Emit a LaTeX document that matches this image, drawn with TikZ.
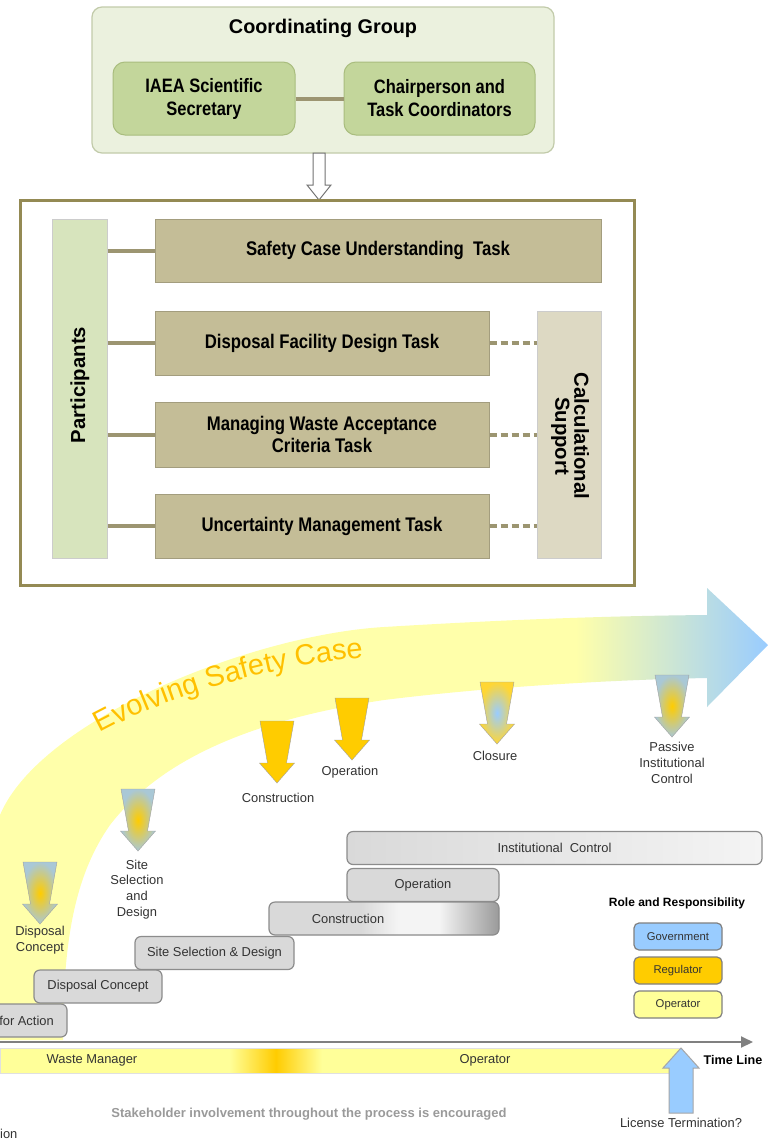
\documentclass[tikz,border=0pt]{standalone}
\usepackage{fontspec}
\setmainfont{Liberation Sans}
\newfontfamily\narrowfont[FakeStretch=0.85]{Liberation Sans}
\usetikzlibrary{arrows.meta,decorations.text}

\definecolor{cgfill}{HTML}{EBF1DE}
\definecolor{cgline}{HTML}{C2CBAA}
\definecolor{cgbox}{HTML}{C3D69B}
\definecolor{cgboxline}{HTML}{A9BD7E}
\definecolor{linkline}{HTML}{9C9571}
\definecolor{frameline}{HTML}{948A54}
\definecolor{partfill}{HTML}{D7E4BD}
\definecolor{taskfill}{HTML}{C4BD97}
\definecolor{taskline}{HTML}{A39D7E}
\definecolor{calcfill}{HTML}{DDD9C3}
\definecolor{bandyellow}{HTML}{FFFFAA}
\definecolor{bandblue}{HTML}{99CCFF}
\definecolor{evolve}{HTML}{FFC000}
\definecolor{gold}{HTML}{FFCC00}
\definecolor{skyblue}{HTML}{99CCFF}
\definecolor{steelgray}{HTML}{A9C8D6}
\definecolor{arrowline}{HTML}{A0A0A0}
\definecolor{stairgray}{HTML}{D9D9D9}
\definecolor{stairdark}{HTML}{9A9A9A}
\definecolor{stairlight}{HTML}{F4F4F4}
\definecolor{stairline}{HTML}{8C8C8C}
\definecolor{paleyellow}{HTML}{FFFF99}
\definecolor{labelgray}{HTML}{333333}
\definecolor{notegray}{HTML}{9A9A9A}

% shadings are stretched over the whole shape: 25bp = left side, 75bp = right side
\pgfdeclarehorizontalshading{bandfade}{100bp}{color(0bp)=(bandyellow); color(62.5bp)=(bandyellow); color(75bp)=(bandblue); color(100bp)=(bandblue)}
\pgfdeclarehorizontalshading{spotfade}{100bp}{color(0bp)=(paleyellow); color(41.9bp)=(paleyellow); color(45.3bp)=(gold); color(48.7bp)=(paleyellow); color(100bp)=(paleyellow)}
\pgfdeclarehorizontalshading{confade}{100bp}{color(0bp)=(stairgray); color(45bp)=(stairgray); color(53bp)=(stairlight); color(62bp)=(stairlight); color(75bp)=(stairdark); color(100bp)=(stairdark)}
\pgfdeclarehorizontalshading{icfade}{100bp}{color(0bp)=(stairgray); color(25bp)=(stairgray); color(75bp)=(stairlight); color(100bp)=(stairlight)}

% one down arrow of the time line: options, x, top y
\newcommand\phasearrow[3]{%
  \path[#1, shift={(#2,#3)}] (-17,0) -- (17,0) -- (9.5,42) -- (17.5,42) -- (0,62)
    -- (-17.5,42) -- (-9.5,42) -- cycle;}

\begin{document}
\begin{tikzpicture}[x=1pt,y=-1pt,
  cgframe/.style={draw=cgline, line width=1.2, fill=cgfill, rounded corners=10,
    minimum width=462, minimum height=146},
  cgtitle/.style={font=\bfseries\fontsize{19.8}{23}\selectfont},
  cgbox/.style={draw=cgboxline, line width=1, fill=cgbox, rounded corners=12,
    minimum height=73, align=center, font={\narrowfont\bfseries\fontsize{19.4}{23}\selectfont}},
  link/.style={draw=linkline, line width=4},
  dashlink/.style={link, dash pattern=on 7 off 4},
  hollowarrow/.style={draw=black!55, line width=1, fill=white},
  taskframe/.style={draw=frameline, line width=3, fill=white, minimum width=614, minimum height=385},
  partbox/.style={draw=black!20, line width=1, fill=partfill, minimum width=55, minimum height=339},
  calcbox/.style={draw=black!20, line width=1, fill=calcfill, minimum width=64, minimum height=247},
  taskbox/.style={draw=taskline, line width=1, fill=taskfill, minimum width=334, minimum height=64,
    align=center, font={\narrowfont\bfseries\fontsize{19.7}{21.7}\selectfont}},
  sidetext/.style={font=\bfseries\fontsize{20.3}{19}\selectfont, align=center},
  phaselabel/.style={text=labelgray, align=center, font=\fontsize{12.9}{15.8}\selectfont},
  stair/.style={draw=stairline, line width=1.2, fill=stairgray, rounded corners=6, minimum height=33,
    text=labelgray, font=\fontsize{12.9}{15}\selectfont},
  roletitle/.style={font=\bfseries\fontsize{12}{14}\selectfont},
  rolebox/.style={draw=black!50, line width=1.2, rounded corners=5, minimum width=88, minimum height=27,
    text=labelgray, font=\fontsize{11.3}{13}\selectfont},
  roleband/.style={shade, shading=spotfade, draw=black!12, minimum width=679, minimum height=25},
  timeline/.style={draw=black!50, line width=2, -{Triangle[length=12,width=11]}},
  uparrow/.style={draw=black!35, line width=1, fill=skyblue},
  note/.style={text=notegray, font=\bfseries\fontsize{13}{15}\selectfont}
]
\path[use as bounding box, fill=white] (0,0) rectangle (768,1141);

% coordinating group
\node[cgframe] (cg) at (323,80) {};
\node[cgtitle] (cgt) at (323,28) {Coordinating Group};
\node[cgbox, minimum width=182] (sec) at (204,98.5) {IAEA Scientific\\Secretary};
\node[cgbox, minimum width=191] (chair) at (439.5,98.5) {Chairperson and\\Task Coordinators};
\draw[link] (sec) -- (chair);
\draw[hollowarrow] (313,153) -- (325,153) -- (325,185) -- (331,185) -- (319,200) -- (307,185) -- (313,185) -- cycle;

% tasks
\node[taskframe] (frame) at (327,392.5) {};
\node[partbox] (part) at (79.5,388.5) {};
\node[sidetext, rotate=90] (parttext) at (80,385) {Participants};
\node[taskbox, minimum width=446, minimum height=63] (sct) at (378,250.5) {Safety Case Understanding\ \ Task};
\node[taskbox] (dfd) at (322,343) {Disposal Facility Design Task};
\node[taskbox, minimum height=65] (mwa) at (322,434.5) {Managing Waste Acceptance\\Criteria Task};
\node[taskbox] (umt) at (322,526) {Uncertainty Management Task};
\node[calcbox] (calc) at (569,434.5) {};
\node[sidetext, rotate=-90] (calctext) at (570,436) {Calculational\\Support};
\draw[link] (part.east |- sct.west) -- (sct.west);
\draw[link] (part.east |- dfd.west) -- (dfd.west);
\draw[link] (part.east |- mwa.west) -- (mwa.west);
\draw[link] (part.east |- umt.west) -- (umt.west);
\draw[dashlink] (dfd.east) -- (calc.west |- dfd.east);
\draw[dashlink] (mwa.east) -- (calc.west |- mwa.east);
\draw[dashlink] (umt.east) -- (calc.west |- umt.east);

% evolving safety case
\shade[shading=bandfade]
  (0,1040) -- (63,1040) .. controls (63,940) and (75,875) .. (110,825)
  .. controls (160,760) and (250,720) .. (384,700) .. controls (480,688) and (600,680) .. (707,678)
  -- (707,707) -- (768,645) -- (707,588) -- (707,615)
  .. controls (600,616) and (500,620) .. (384,627) .. controls (250,635) and (40,720) .. (0,815) -- cycle;
\path[decorate, decoration={text along path, text color=evolve,
    text={|\fontsize{29}{30}\selectfont|Evolving Safety Case}}]
  (100,733) .. controls (160,700) and (260,668) .. (357,658) -- (440,650);

% milestones
\phasearrow{draw=arrowline, inner color=gold, outer color=steelgray}{40}{862}
\phasearrow{draw=arrowline, inner color=gold, outer color=steelgray}{138}{789}
\phasearrow{draw=arrowline, fill=gold}{277}{721}
\phasearrow{draw=arrowline, fill=gold}{352}{698}
\phasearrow{draw=arrowline, inner color=skyblue, outer color=gold!80!white}{497}{682}
\phasearrow{draw=arrowline, inner color=gold, outer color=steelgray}{672}{675}
\node[phaselabel] (dclabel) at (40,940) {Disposal\\Concept};
\node[phaselabel] (sslabel) at (137,889.5) {Site\\Selection\\and\\Design};
\node[phaselabel] (conlabel) at (278,798) {Construction};
\node[phaselabel] (oplabel) at (350,772) {Operation};
\node[phaselabel] (cllabel) at (495,756) {Closure};
\node[phaselabel] (pclabel) at (672,763) {Passive\\Institutional\\Control};

% stairs
\node[stair, minimum width=415, shade, shading=icfade] (ic) at (554.5,848) {Institutional\ \ Control};
\node[stair, minimum width=152] (opn) at (423,885) {Operation};
\node[stair, minimum width=230, shade, shading=confade] (con) at (384,918.5) {};
\node[phaselabel] (context) at (348,918.5) {Construction};
\node[stair, minimum width=159] (ssd) at (214.5,953) {Site Selection \& Design};
\node[stair, minimum width=128] (dc) at (98,986.5) {Disposal Concept};
\node[stair, minimum width=81] (act) at (26.5,1020.5) {for Action};

% roles
\node[roletitle] (rrt) at (677,903) {Role and Responsibility};
\node[rolebox, fill=skyblue] (gov) at (678,936.5) {Government};
\node[rolebox, fill=gold] (reg) at (678,970.5) {Regulator};
\node[rolebox, fill=paleyellow] (opr) at (678,1004.5) {Operator};

% time line
\node[roleband] (band) at (339.5,1060.5) {};
\coordinate (tlstart) at (-2,1042);
\coordinate (tlend) at (753,1042);
\draw[timeline] (tlstart) -- (tlend);
\node[phaselabel] (wm) at (92,1060.5) {Waste Manager};
\node[phaselabel] (bop) at (485,1060.5) {Operator};
\node[roletitle, font=\bfseries\fontsize{12.6}{14}\selectfont] (tlt) at (733,1060) {Time Line};
\draw[uparrow] (681,1048) -- (699,1068) -- (693,1068) -- (693,1113) -- (669,1113) -- (669,1068) -- (663,1068) -- cycle;
\node[phaselabel] (lt) at (681,1123) {License Termination?};
\node[note] (stake) at (309,1114) {Stakeholder involvement throughout the process is encouraged};
\node[phaselabel, anchor=west, inner sep=0] (cut) at (0,1134) {ion};
\end{tikzpicture}
\end{document}
